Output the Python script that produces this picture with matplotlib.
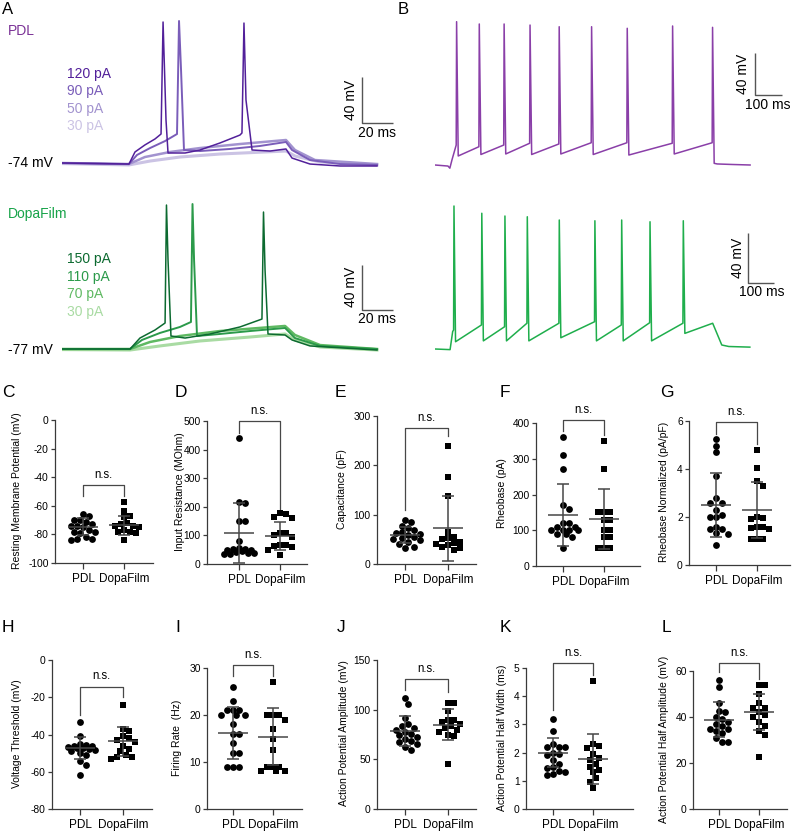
import numpy as np
import matplotlib
matplotlib.use('Agg')
import matplotlib.pyplot as plt

plt.rcParams['font.family'] = ['Liberation Sans', 'DejaVu Sans']
plt.rcParams['axes.unicode_minus'] = False

W, H = 793, 838

# ------------------------------------------------------------------
# DATA
# ------------------------------------------------------------------
# Panel A, PDL traces (time ms, membrane potential mV)
pdl_120_t = [0, 43.2, 47.1, 53.5, 60, 63.9, 65.2, 67.1, 68.4, 79.4, 89, 101.9, 114.8, 116.1, 117.4, 118.7, 122.6, 134.2, 144.5, 148.4, 160, 179.4, 203.2]
pdl_120_v = [-74, -74.9, -64.4, -58.3, -53.1, -48.8, 48.6, -36.6, -65.3, -65.3, -62.7, -56.6, -49.7, -47.9, 47.7, -19.2, -62.7, -63.6, -61.8, -69.7, -74.9, -76.6, -76.6]
pdl_90_t = [0, 43.2, 48.4, 56.8, 66.5, 74.2, 75.5, 76.8, 78.7, 89, 108.4, 127.7, 144.5, 148.4, 160, 179.4, 203.2]
pdl_90_v = [-74, -74.9, -67, -61, -54.9, -48.8, 49.5, 6.9, -62.7, -63.6, -61.8, -59.2, -55.7, -62.7, -71.4, -74.9, -75.7]
pdl_50_t = [0, 43.2, 53.5, 69.7, 89, 114.8, 144.5, 150.3, 163.2, 203.2]
pdl_50_v = [-74, -74.9, -68.8, -64.4, -61, -57.5, -54, -62.7, -71.4, -74.9]
pdl_30_t = [0, 43.2, 56.8, 76.1, 101.9, 144.5, 150.3, 166.5, 203.2]
pdl_30_v = [-74.5, -75.7, -72.3, -68.8, -66.2, -63.6, -67.9, -73.1, -75.7]

# Panel A, DopaFilm traces
dopa_150_t = [0, 43.9, 50.3, 60, 66.5, 67.4, 68.4, 70.3, 79.4, 95.5, 114.8, 129, 130, 131, 132.9, 143.9, 148.4, 160, 203.2]
dopa_150_v = [-77, -77, -67.3, -60.2, -54, 50.4, 1.8, -65.5, -67.3, -63.7, -57.5, -50.5, 44.2, -7.1, -63.7, -64.6, -69, -74.3, -77.9]
dopa_110_t = [0, 43.9, 51.6, 63.2, 76.1, 83.2, 84.2, 85.2, 87.1, 101.9, 121.3, 143.9, 150.3, 166.5, 203.2]
dopa_110_v = [-77, -77, -69, -62.8, -57.5, -53.1, 51.3, 1.8, -65.5, -63.7, -61.1, -58.4, -67.3, -74.3, -77]
dopa_70_t = [0, 43.9, 56.8, 76.1, 101.9, 143.9, 150.3, 166.5, 203.2]
dopa_70_v = [-77, -77, -70.8, -65.5, -61.1, -56.6, -64.6, -73.5, -77]
dopa_30_t = [0, 43.9, 63.2, 89, 121.3, 143.9, 150.3, 166.5, 203.2]
dopa_30_v = [-77.5, -77.9, -74.3, -69.9, -66.4, -63.7, -69, -75.2, -77.9]

# Panel B, PDL spike train
bp_onset_t = [0, 48, 55, 63]
bp_onset_v = [-70, -71, -73, -65]
bp_spike_t = [80, 164, 256, 352, 460, 580, 712, 880, 1028]
bp_peak_v = [66.5, 64.3, 64.3, 63.3, 61.7, 61.7, 60.2, 62.4, 61.1]
bp_pre_v = [-51, -52.6, -51, -49.3, -50, -48.8, -48.8, -49.3, -48.8]
bp_trough_v = [-61.4, -60, -59.5, -60, -59.5, -60, -60.5, -59.5, -68.4]
bp_tail_t = [1045, 1100, 1167]
bp_tail_v = [-69, -69.5, -70]

# Panel B, DopaFilm spike train
bd_onset_t = [0, 58, 68]
bd_onset_v = [-70, -70.5, -56]
bd_spike_t = [73, 180, 269, 355, 478, 615, 718, 827, 955]
bd_peak_v = [44.4, 38.6, 36.4, 35.8, 33.2, 32.6, 33.2, 31.8, 32.6]
bd_pre_v = [-54.8, -50.8, -52.2, -49.4, -49.4, -48.2, -50.8, -49, -49.4]
bd_trough_v = [-64.2, -63.5, -63.5, -63.5, -61, -63.5, -63.5, -63.5, -57.5]
bd_tail_t = [1068, 1103, 1130, 1211]
bd_tail_v = [-49.4, -66.8, -68, -68.5]

groups = ['PDL', 'DopaFilm']

# Panels C-L: individual cells
C_pdl = [-66, -67, -70, -70, -71, -73, -74, -74, -75, -77, -78, -78, -79, -82, -83, -83, -84]
C_dopa = [-57, -63.5, -67, -68, -72, -73, -74, -74, -75, -77, -78, -78, -79, -84]
D_pdl = [440, 216, 213, 152, 150, 80, 56, 54, 52, 50, 48, 45, 42, 40, 38, 36, 34]
D_dopa = [178, 175, 165, 160, 110, 108, 100, 95, 68, 65, 62, 60, 48, 30]
E_pdl = [90, 85, 78, 72, 68, 65, 62, 60, 58, 55, 52, 50, 48, 45, 40, 35, 32]
E_dopa = [240, 177, 138, 65, 55, 52, 50, 45, 42, 40, 38, 35, 32, 28]
F_pdl = [360, 310, 270, 170, 160, 120, 120, 110, 110, 100, 100, 100, 100, 90, 90, 80, 50]
F_dopa = [350, 270, 150, 150, 150, 130, 130, 100, 100, 80, 80, 50, 50, 50]
G_pdl = [5.25, 4.95, 4.7, 3.7, 2.8, 2.6, 2.6, 2.3, 2.1, 2.0, 2.0, 1.6, 1.5, 1.5, 1.35, 1.3, 0.85]
G_dopa = [4.8, 4.05, 3.5, 3.3, 2.0, 1.95, 1.9, 1.6, 1.6, 1.55, 1.5, 1.1, 1.1, 1.1]
H_pdl = [-33.5, -41, -45, -45.5, -46, -46, -46.5, -47, -47, -48, -48.5, -49, -50, -51, -54, -56.5, -62]
H_dopa = [-24, -37, -38, -41, -42, -43, -44, -46, -48, -49, -51, -52, -52, -53]
I_pdl = [26, 23, 21, 21, 21, 20, 20, 20, 18, 16, 16, 14, 12, 12, 9, 9, 9]
I_dopa = [27, 20, 20, 20, 19, 17, 15, 12.5, 9, 9, 9, 8, 8, 8]
J_pdl = [112, 106, 92, 86, 84, 82, 80, 78, 76, 74, 72, 70, 68, 67, 65, 62, 59]
J_dopa = [107, 107, 99, 90, 90, 88, 86, 84, 82, 80, 78, 75, 73, 45]
K_pdl = [3.2, 2.75, 2.3, 2.2, 2.2, 2.2, 2.0, 1.95, 1.9, 1.75, 1.6, 1.5, 1.45, 1.35, 1.3, 1.25, 1.2]
K_dopa = [4.55, 2.3, 2.25, 2.15, 1.95, 1.8, 1.75, 1.6, 1.5, 1.4, 1.3, 1.1, 0.95, 0.75]
L_pdl = [56, 53, 46, 42.5, 42, 40, 39, 38, 37, 36, 35, 35, 34, 33, 31, 29, 29]
L_dopa = [54, 54, 50, 46, 44, 44, 42, 41, 40, 38, 36, 34, 32, 22.5]

# mean, SD as shown (PDL, DopaFilm)
C_stats = [(-74.6, 5.8), (-73.5, 6.6)]
D_stats = [(107, 105), (98, 48)]
E_stats = [(58, 16), (72, 66)]
F_stats = [(143, 87), (131, 84)]
G_stats = [(2.5, 1.35), (2.3, 1.16)]
H_stats = [(-47.3, 6.0), (-43.7, 7.6)]
I_stats = [(16.2, 5.5), (15.4, 6.1)]
J_stats = [(78.3, 15.3), (85, 15.5)]
K_stats = [(2.0, 0.52), (1.77, 0.89)]
L_stats = [(38.9, 7.6), (42.2, 7.8)]

# significance brackets: top, left leg end, right leg end
C_bracket = (-45.3, -53, -53)
D_bracket = (500, 457, 184)
E_bracket = (275, 110, 260)
F_bracket = (409, 377, 367)
G_bracket = (5.96, 5.47, 5.03)
H_bracket = (-14.3, -29.5, -19.7)
I_bracket = (30.6, 28.4, 28.2)
J_bracket = (130.6, 119.9, 118.2)
K_bracket = (5.18, 3.52, 4.76)
L_bracket = (63.6, 59.6, 56.7)

# ------------------------------------------------------------------
# STYLE / LAYOUT
# ------------------------------------------------------------------
PDL_LABEL = '#7b3296'
PDL_COLS = ['#52209a', '#7a5db9', '#a293cf', '#cbc3e4']
DOPA_LABEL = '#17a349'
DOPA_COLS = ['#0c6a30', '#2b9a4a', '#5fb962', '#a9dba3']
B_PDL = '#8a3fa8'
B_DOPA = '#1fae4c'
AX_COL = '#3a3a3a'

fig = plt.figure(figsize=(W / 100, H / 100), dpi=100)


def px_rect(x0, ytop, x1, ybot):
    return [x0 / W, 1 - ybot / H, (x1 - x0) / W, (ybot - ytop) / H]


def ftext(x, y, s, **kw):
    fig.text(x / W, 1 - y / H, s, **kw)


def trace_axes(box, t0_px, vref, vref_px, px_ms, px_mv):
    x0, ytop, x1, ybot = box
    ax = fig.add_axes(px_rect(*box))
    ax.set_xlim((x0 - t0_px) / px_ms, (x1 - t0_px) / px_ms)
    ax.set_ylim(vref - (ybot - vref_px) / px_mv, vref + (vref_px - ytop) / px_mv)
    ax.axis('off')
    return ax


def scalebar(ax, t, v, dv, dt):
    ax.plot([t, t, t + dt], [v + dv, v, v], color='#555555', lw=1.0, solid_capstyle='butt')


def build_train(on_t, on_v, spk_t, spk_v, pre_v, tr_v, tail_t, tail_v):
    t = list(on_t)
    v = list(on_v)
    for ts, pk, pr, tr in zip(spk_t, spk_v, pre_v, tr_v):
        t += [ts - 1.5, ts, ts + 6]
        v += [pr, pk, tr]
    t += list(tail_t)
    v += list(tail_v)
    return t, v


# ---- Panel A PDL ----
axA1 = trace_axes((62, 10, 400, 190), 62, -74, 163, 1.55, 1.15)
for (tt, vv), c, lw in zip([(pdl_30_t, pdl_30_v), (pdl_50_t, pdl_50_v), (pdl_90_t, pdl_90_v), (pdl_120_t, pdl_120_v)],
                           PDL_COLS[::-1], [2.2, 1.8, 1.4, 1.1]):
    axA1.plot(tt, vv, color=c, lw=lw)
scalebar(axA1, 193.5, -39.2, 40, 20)

# ---- Panel A DopaFilm ----
axA2 = trace_axes((62, 196, 400, 370), 62, -77, 349, 1.55, 1.13)
for (tt, vv), c, lw in zip([(dopa_30_t, dopa_30_v), (dopa_70_t, dopa_70_v), (dopa_110_t, dopa_110_v), (dopa_150_t, dopa_150_v)],
                           DOPA_COLS[::-1], [2.2, 1.8, 1.4, 1.1]):
    axA2.plot(tt, vv, color=c, lw=lw)
scalebar(axA2, 193.5, -42.5, 40, 20)

# ---- Panel B ----
axB1 = trace_axes((435, 10, 790, 190), 435, -70, 165, 0.27, 1.05)
t, v = build_train(bp_onset_t, bp_onset_v, bp_spike_t, bp_peak_v, bp_pre_v, bp_trough_v, bp_tail_t, bp_tail_v)
axB1.plot(t, v, color=B_PDL, lw=1.1)
scalebar(axB1, 1185, -3.3, 40, 100)

axB2 = trace_axes((435, 196, 790, 370), 435, -70, 349, 0.26, 1.25)
t, v = build_train(bd_onset_t, bd_onset_v, bd_spike_t, bd_peak_v, bd_pre_v, bd_trough_v, bd_tail_t, bd_tail_v)
axB2.plot(t, v, color=B_DOPA, lw=1.1)
scalebar(axB2, 1204, -17.2, 40, 100)

# ---- texts of A/B ----
ftext(2, 9, 'A', fontsize=12, va='center', ha='left')
ftext(398, 9, 'B', fontsize=12, va='center', ha='left')
ftext(8, 31, 'PDL', fontsize=10, color=PDL_LABEL, va='center')
ftext(8, 214, 'DopaFilm', fontsize=10, color=DOPA_LABEL, va='center')
ftext(8, 163, '-74 mV', fontsize=10, va='center')
ftext(8, 350, '-77 mV', fontsize=10, va='center')
for i, (lab, c) in enumerate(zip(['120 pA', '90 pA', '50 pA', '30 pA'], PDL_COLS)):
    ftext(67, 74 + i * 17.3, lab, fontsize=10, color=c, va='center')
for i, (lab, c) in enumerate(zip(['150 pA', '110 pA', '70 pA', '30 pA'], DOPA_COLS)):
    ftext(67, 259 + i * 17.6, lab, fontsize=10, color=c, va='center')
ftext(351, 100, '40 mV', fontsize=10, rotation=90, va='center', ha='center')
ftext(377, 133, '20 ms', fontsize=10, va='center', ha='center')
ftext(351, 287, '40 mV', fontsize=10, rotation=90, va='center', ha='center')
ftext(377, 319, '20 ms', fontsize=10, va='center', ha='center')
ftext(743, 74, '40 mV', fontsize=10, rotation=90, va='center', ha='center')
ftext(768, 105, '100 ms', fontsize=10, va='center', ha='center')
ftext(738, 258, '40 mV', fontsize=10, rotation=90, va='center', ha='center')
ftext(762, 292, '100 ms', fontsize=10, va='center', ha='center')


# ---- scatter panels ----
def swarm_offsets(vals, px_per_val, d=6.0, maxw=16.0):
    vals = np.asarray(vals, dtype=float)
    order = np.argsort(-vals)
    placed = []
    offs = np.zeros(len(vals))
    step = d * 0.5
    cands = [0.0]
    k = 1
    while k * step <= maxw + 1e-9:
        cands += [k * step, -k * step]
        k += 1
    for idx in order:
        y = vals[idx] * px_per_val
        best, best_score = 0.0, -1
        chosen = None
        for c in cands:
            if placed:
                md = min(np.hypot(c - px, y - py) for px, py in placed)
            else:
                md = 1e9
            if md >= d:
                chosen = c
                break
            if md > best_score + 0.3:
                best, best_score = c, md
        if chosen is None:
            chosen = best
        offs[idx] = chosen
        placed.append((chosen, y))
    return offs


def stat_panel(letter, letter_x, letter_y, geom, ylim, yticks, ylabel, ylabel_x,
               pdl, dopa, stats, bracket):
    axis_x, pdl_x, dopa_x, right_x, top_y, bot_y = geom
    ax = fig.add_axes(px_rect(axis_x, top_y, right_x, bot_y))
    unit = dopa_x - pdl_x
    ax.set_xlim(1 - (pdl_x - axis_x) / unit, 2 + (right_x - dopa_x) / unit)
    ax.set_ylim(*ylim)
    for s in ['top', 'right']:
        ax.spines[s].set_visible(False)
    for s in ['left', 'bottom']:
        ax.spines[s].set_color(AX_COL)
        ax.spines[s].set_linewidth(0.9)
    ax.set_yticks(yticks)
    ax.set_yticklabels([('%g' % y) for y in yticks])
    ax.set_xticks([1, 2])
    ax.set_xticklabels(groups)
    ax.tick_params(axis='y', length=3, width=0.9, color=AX_COL, labelsize=7.4, pad=1.5)
    ax.tick_params(axis='x', length=4, width=0.9, color=AX_COL, labelsize=8.5, pad=3.5)
    px_per_val = (bot_y - top_y) / (ylim[1] - ylim[0])
    for xi, vals, mk, ms in [(1, pdl, 'o', 24), (2, dopa, 's', 21)]:
        offs = swarm_offsets(vals, px_per_val) / unit
        ax.scatter(xi + offs, vals, marker=mk, s=ms, color='black', linewidths=0, zorder=2, clip_on=False)
    for xi, (m, sd) in zip([1, 2], stats):
        hw = 15 / unit
        cw = 6 / unit
        kw = dict(color='#474747', lw=1.1, zorder=3, clip_on=False, solid_capstyle='butt')
        ax.plot([xi - hw, xi + hw], [m, m], **kw)
        ax.plot([xi, xi], [m - sd, m + sd], **kw)
        ax.plot([xi - cw, xi + cw], [m + sd, m + sd], **kw)
        ax.plot([xi - cw, xi + cw], [m - sd, m - sd], **kw)
    btop, bl, br = bracket
    ax.plot([1, 1, 2, 2], [bl, btop, btop, br], color='#474747', lw=0.9, clip_on=False, zorder=1)
    ax.annotate('n.s.', xy=(1.5, btop), xytext=(0, 3), textcoords='offset points',
                ha='center', va='bottom', fontsize=8.3, annotation_clip=False)
    ftext(letter_x, letter_y, letter, fontsize=12.5, va='top', ha='left')
    ftext(ylabel_x, (top_y + bot_y) / 2 - 1, ylabel, fontsize=7.5, rotation=90, va='center', ha='center')
    return ax


stat_panel('C', 2, 385, (55, 83, 124, 153, 420, 563), (-100, 0), [0, -20, -40, -60, -80, -100],
           'Resting Membrane Potential (mV)', 17, C_pdl, C_dopa, C_stats, C_bracket)
stat_panel('D', 175, 385, (207, 239, 280, 307, 421, 564), (0, 500), [0, 100, 200, 300, 400, 500],
           'Input Resistance (MOhm)', 180, D_pdl, D_dopa, D_stats, D_bracket)
stat_panel('E', 335, 385, (377, 405, 448, 476, 416, 564), (0, 300), [0, 100, 200, 300],
           'Capacitance (pF)', 342, E_pdl, E_dopa, E_stats, E_bracket)
stat_panel('F', 500, 385, (536, 563, 604, 640, 423, 566), (0, 400), [0, 100, 200, 300, 400],
           'Rheobase (pA)', 502, F_pdl, F_dopa, F_stats, F_bracket)
stat_panel('G', 660, 385, (689, 716, 757, 790, 421, 565), (0, 6), [0, 2, 4, 6],
           'Rheobase Normalized (pA/pF)', 664, G_pdl, G_dopa, G_stats, G_bracket)

stat_panel('H', 2, 620, (52, 80, 123, 152, 660, 809), (-80, 0), [0, -20, -40, -60, -80],
           'Voltage Threshold (mV)', 17, H_pdl, H_dopa, H_stats, H_bracket)
stat_panel('I', 175, 620, (207, 233, 273, 302, 668, 809), (0, 30), [0, 10, 20, 30],
           'Firing Rate  (Hz)', 177, I_pdl, I_dopa, I_stats, I_bracket)
stat_panel('J', 337, 620, (377, 405, 448, 476, 660, 809), (0, 150), [0, 50, 100, 150],
           'Action Potential Amplitude (mV)', 344, J_pdl, J_dopa, J_stats, J_bracket)
stat_panel('K', 500, 620, (526, 553, 593, 633, 668, 809), (0, 5), [0, 1, 2, 3, 4, 5],
           'Action Potential Half Width (ms)', 502, K_pdl, K_dopa, K_stats, K_bracket)
stat_panel('L', 662, 620, (693, 719, 759, 787, 671, 809), (0, 60), [0, 20, 40, 60],
           'Action Potential Half Amplitude (mV)', 664, L_pdl, L_dopa, L_stats, L_bracket)

fig.savefig('out.png', dpi=100)
